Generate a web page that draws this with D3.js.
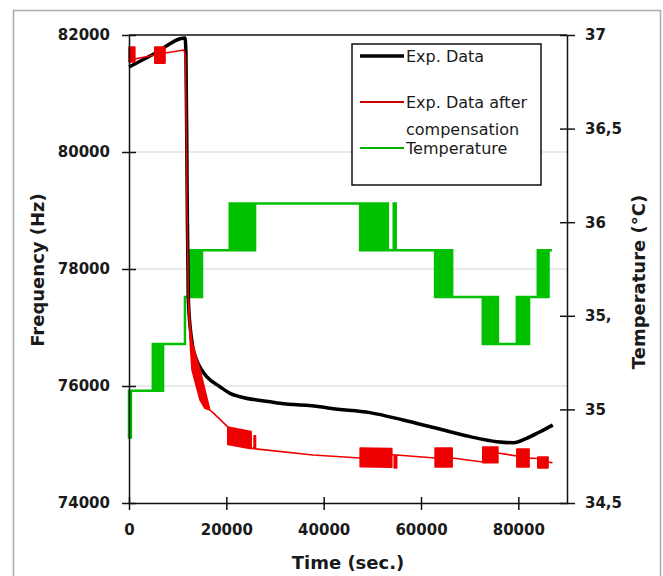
<!DOCTYPE html>
<html><head><meta charset="utf-8">
<script src="https://cdn.jsdelivr.net/npm/d3@7"></script>
<style>body{margin:0;background:#fff;} svg{display:block;}</style>
</head><body>
<script>
// ---------- data ----------
const timeTicks = [0, 20000, 40000, 60000, 80000];
const freqTicks = [74000, 76000, 78000, 80000, 82000];
const tempTicks = [34.5, 35, 35.5, 36, 36.5, 37];
const tempTickLabels = ["34,5", "35", "35,", "36", "36,5", "37"];
const legendLabels = ["Exp. Data", "Exp. Data after", "compensation", "Temperature"];

// Exp. Data: [time, frequency]
const expData = [
  [0, 81453], [5000, 81670], [11500, 81950], [11700, 81700], [11950, 79300],
  [12200, 77470], [12880, 76786], [13900, 76444], [14940, 76274], [15960, 76159],
  [18700, 75988], [20750, 75875], [22800, 75817], [29000, 75731], [31000, 75704],
  [39250, 75646], [41300, 75619], [49500, 75545], [56300, 75419], [63200, 75277],
  [70100, 75134], [75560, 75048], [79000, 75031], [81700, 75106], [84460, 75219],
  [87070, 75333]
];

// Exp. Data after compensation: [time, low, high] (band where it oscillates)
const compData = [
  [0, 81540, 81795], [1200, 81540, 81795], [1200, 81590, 81590], [5300, 81658, 81658],
  [5300, 81520, 81795], [7400, 81520, 81795], [7400, 81692, 81692], [11300, 81744, 81744],
  [11600, 81650, 81650], [11900, 79200, 79200], [12200, 77500, 77500],
  [12600, 76700, 77000], [12950, 76274, 76750], [14600, 75760, 76274], [15600, 75620, 75932],
  [16600, 75590, 75590], [17300, 75540, 75540], [20300, 75300, 75300],
  [20300, 75000, 75300], [25100, 74930, 75220], [25100, 74940, 74940],
  [25700, 74930, 74930], [25700, 74930, 75150], [26000, 74925, 75150], [26000, 74925, 74925],
  [37800, 74820, 74820], [47500, 74770, 74770],
  [47500, 74620, 74940], [54000, 74610, 74930], [54000, 74830, 74830],
  [54500, 74820, 74820], [54500, 74600, 74820], [55000, 74600, 74820], [55000, 74820, 74820],
  [62900, 74770, 74770], [62900, 74615, 74940], [66400, 74615, 74940], [66400, 74770, 74770],
  [72700, 74700, 74700], [72700, 74690, 74957], [75800, 74690, 74957], [75800, 74855, 74855],
  [79700, 74803, 74803], [79700, 74615, 74923], [82200, 74615, 74923], [82200, 74770, 74770],
  [84000, 74760, 74760], [84000, 74600, 74786], [86100, 74600, 74786], [86100, 74700, 74700],
  [86900, 74690, 74690]
];

// Temperature: [time, low, high] step segments (band where it toggles)
const tempData = [
  [0, 34.85, 35.1], [400, 35.1, 35.1], [4900, 35.1, 35.35], [7000, 35.35, 35.35],
  [11500, 35.6, 35.6], [12100, 35.6, 35.85], [15000, 35.85, 35.85], [20700, 35.85, 36.1],
  [25100, 36.1, 36.1], [25600, 35.85, 36.1], [25900, 36.1, 36.1], [47500, 35.85, 36.1],
  [53200, 35.85, 35.85], [54400, 35.85, 36.1], [54800, 35.85, 35.85], [62900, 35.6, 35.85],
  [66400, 35.6, 35.6], [72700, 35.35, 35.6], [75800, 35.35, 35.35], [79700, 35.35, 35.6],
  [82200, 35.6, 35.6], [84000, 35.6, 35.85], [86200, 35.85, 35.85], [86900, 35.85, 35.85]
];

// ---------- drawing ----------
const W = 663, H = 576;
const L = 129, R = 567, T = 35, B = 503;
const svg = d3.select("body").append("svg").attr("width", W).attr("height", H);
const FONT = "DejaVu Sans, Verdana, sans-serif";

svg.append("rect").attr("x", 13.5).attr("y", 10.5).attr("width", 647).attr("height", 600)
  .attr("fill", "#fff").attr("stroke", "#aaa").attr("stroke-width", 1.5);

const x = d3.scaleLinear().domain([0, 90000]).range([L, R]);
const yF = d3.scaleLinear().domain([74000, 82000]).range([B, T]);
const yT = d3.scaleLinear().domain([34.5, 37]).range([B, T]);

// gridlines
svg.append("g").selectAll("line").data(freqTicks.filter(d => d > 74000 && d < 82000)).join("line")
  .attr("x1", L).attr("x2", R).attr("y1", d => yF(d)).attr("y2", d => yF(d))
  .attr("stroke", "#d4d4d4").attr("stroke-width", 1.2);

// top border
svg.append("line").attr("x1", L).attr("x2", R).attr("y1", T).attr("y2", T)
  .attr("stroke", "#111").attr("stroke-width", 1.5);

// temperature
const tArea = d3.area().x(d => x(d[0])).y0(d => yT(d[1])).y1(d => yT(d[2])).curve(d3.curveStepAfter);
svg.append("path").datum(tempData).attr("d", tArea)
  .attr("fill", "#00c000").attr("stroke", "#00c000").attr("stroke-width", 2.5)
  .attr("stroke-linejoin", "miter");

// exp data
const line = d3.line().x(d => x(d[0])).y(d => yF(d[1])).curve(d3.curveMonotoneX);
svg.append("path").datum(expData).attr("d", line)
  .attr("fill", "none").attr("stroke", "#000").attr("stroke-width", 3.5);

// compensated
const cArea = d3.area().x(d => x(d[0])).y0(d => yF(d[1])).y1(d => yF(d[2]));
svg.append("path").datum(compData).attr("d", cArea)
  .attr("fill", "#ee0000").attr("stroke", "#ee0000").attr("stroke-width", 1.6)
  .attr("stroke-linejoin", "round");

// axes
function styleAxis(g) {
  g.selectAll(".domain").attr("stroke", "#111").attr("stroke-width", 1.5);
  g.selectAll(".tick line").attr("stroke", "#111").attr("stroke-width", 1.5);
  g.selectAll(".tick text").attr("font-family", FONT).attr("font-weight", "bold")
    .attr("font-size", 15).attr("fill", "#1a1a1a");
}
const axL = svg.append("g").attr("transform", `translate(${L},0)`)
  .call(d3.axisLeft(yF).tickValues(freqTicks).tickFormat(d3.format("d")).tickSizeInner(7).tickSizeOuter(0).tickPadding(12));
axL.selectAll(".tick line").attr("x2", 7).attr("x1", -7);
styleAxis(axL);

const axB = svg.append("g").attr("transform", `translate(0,${B})`)
  .call(d3.axisBottom(x).tickValues(timeTicks).tickFormat(d3.format("d")).tickSizeInner(7).tickSizeOuter(0).tickPadding(14));
axB.selectAll(".tick line").attr("y1", -6).attr("y2", 7);
styleAxis(axB);

const axR = svg.append("g").attr("transform", `translate(${R},0)`)
  .call(d3.axisRight(yT).tickValues(tempTicks).tickFormat((d, i) => tempTickLabels[i]).tickSizeInner(8).tickSizeOuter(0).tickPadding(10));
axR.selectAll(".tick line").attr("x1", -7).attr("x2", 8);
styleAxis(axR);

// axis titles
svg.append("text").attr("x", (L + R) / 2 - 0).attr("y", 569).attr("text-anchor", "middle")
  .attr("font-family", FONT).attr("font-weight", "bold").attr("font-size", 18).attr("fill", "#1a1a1a")
  .text("Time (sec.)");
svg.append("text").attr("transform", "translate(44,270) rotate(-90)").attr("text-anchor", "middle")
  .attr("font-family", FONT).attr("font-weight", "bold").attr("font-size", 18).attr("fill", "#1a1a1a")
  .text("Frequency (Hz)");
svg.append("text").attr("transform", "translate(645,282) rotate(-90)").attr("text-anchor", "middle")
  .attr("font-family", FONT).attr("font-weight", "bold").attr("font-size", 18).attr("fill", "#1a1a1a")
  .text("Temperature (°C)");

// legend
const lg = svg.append("g");
lg.append("rect").attr("x", 352).attr("y", 44).attr("width", 189).attr("height", 141)
  .attr("fill", "#fff").attr("stroke", "#111").attr("stroke-width", 1.5);
const legLines = [[56, "#000", 3.5], [102, "#cc0000", 2], [148, "#00b000", 2]];
lg.selectAll("line").data(legLines).join("line")
  .attr("x1", 360).attr("x2", 404).attr("y1", d => d[0]).attr("y2", d => d[0])
  .attr("stroke", d => d[1]).attr("stroke-width", d => d[2]);
const legY = [62, 108, 135, 154];
lg.selectAll("text").data(legendLabels).join("text")
  .attr("x", 406).attr("y", (d, i) => legY[i])
  .attr("font-family", FONT).attr("font-size", 16).attr("fill", "#1a1a1a")
  .text(d => d);
</script>
</body></html>
